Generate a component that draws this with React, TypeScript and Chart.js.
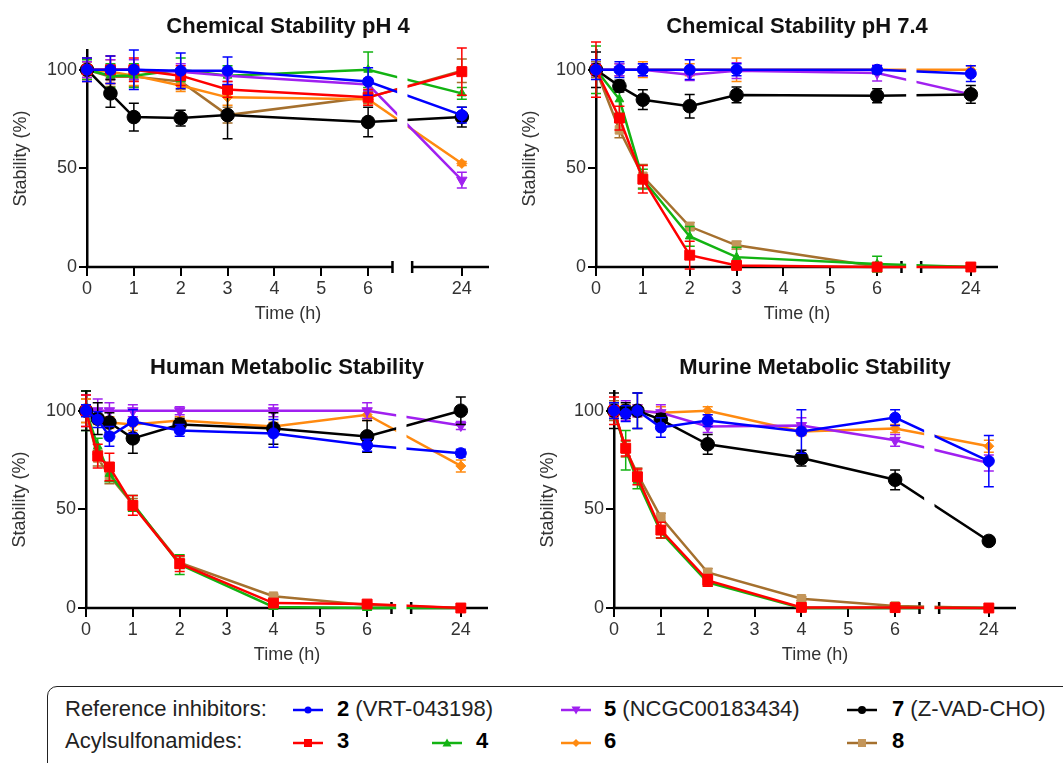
import React, { useEffect, useRef } from 'react';
import { Chart, registerables } from 'chart.js';

Chart.register(...registerables);

const FONT = '"Liberation Sans", Arial, Helvetica, sans-serif';
Chart.defaults.font.family = FONT;

// ---------------- data ----------------
const T_CHEM = [0, 0.5, 1, 2, 3, 6, 24];
const T_MET = [0, 0.25, 0.5, 1, 2, 4, 6, 24];
const X_TICK_HOURS = [0, 1, 2, 3, 4, 5, 6, 24];
const Y_TICKS = [0, 50, 100];

// Chemical Stability pH 4
const PH4_2 = [100, 100, 100, 99.5, 99.5, 94, 77];
const PH4_2_ERR = [6, 7, 10, 9, 7, 7, 4];
const PH4_3 = [100, 100, 100, 97, 90, 86, 99];
const PH4_3_ERR = [6, 7, 6, 5, 4, 4, 12];
const PH4_4 = [100, 97, 97, 100, 97, 100, 88];
const PH4_4_ERR = [5, 6, 6, 6, 5, 9, 3];
const PH4_5 = [100, 100, 100, 99, 97, 92.5, 44];
const PH4_5_ERR = [4, 5, 5, 4, 3, 3, 4];
const PH4_6 = [100, 99, 97, 92, 86, 85, 52.5];
const PH4_6_ERR = [4, 6, 5, 3, 4, 3, 1];
const PH4_7 = [100, 88, 76, 75.5, 77, 73.5, 76];
const PH4_7_ERR = [2, 7, 7, 4, 12, 7.5, 5];
const PH4_8 = [100, 96.5, 96.5, 94, 77, 86, 99.5];
const PH4_8_ERR = [4, 5, 5, 4, 4, 3, 6];

// Chemical Stability pH 7.4
const PH74_2 = [100, 100, 100, 100, 100, 100, 98];
const PH74_2_ERR = [5, 4, 3, 5, 3, 2, 4];
const PH74_3 = [100, 75.5, 44.5, 6, 0.8, 0, 0];
const PH74_3_ERR = [14, 6, 7, 7, 1, 1, 0.5];
const PH74_4 = [100, 85, 44.5, 15.5, 5, 1.5, 0];
const PH74_4_ERR = [12, 7, 5, 5, 5, 4, 0.5];
const PH74_5 = [100, 100, 100, 97.5, 99.5, 98.3, 87.5];
const PH74_5_ERR = [3, 3, 3, 3, 4, 4, 2];
const PH74_6 = [100, 100, 100, 100, 100, 100, 100];
const PH74_6_ERR = [3, 3, 4, 3, 6, 2, 2];
const PH74_7 = [100, 91.7, 84.8, 81.5, 87.2, 86.8, 87.5];
const PH74_7_ERR = [9, 3, 5, 6, 4, 3.5, 4.5];
const PH74_8 = [100, 69.5, 46, 20.5, 11, 0.3, 0];
const PH74_8_ERR = [4, 4, 6, 2, 2, 1, 0.5];

// Human Metabolic Stability
const HUM_2 = [100, 95.5, 87, 94.5, 90, 88.5, 82.5, 78.5];
const HUM_2_ERR = [3, 4, 5, 6, 3, 7, 3, 2];
const HUM_3 = [100, 77, 71.5, 52, 22.5, 2.5, 2, 0];
const HUM_3_ERR = [8, 6, 7, 5, 4, 1, 1, 0.5];
const HUM_4 = [100, 82, 68, 53, 22, 0.5, 0, 0];
const HUM_4_ERR = [10, 4, 4, 4, 5, 1, 1, 0.5];
const HUM_5 = [100, 100, 100, 100, 100, 100, 100, 92.5];
const HUM_5_ERR = [8, 6, 4, 3, 2, 3, 4, 2];
const HUM_6 = [100, 97, 94, 93, 95, 92, 98, 72];
const HUM_6_ERR = [6, 4, 3, 3, 2, 2, 3, 3];
const HUM_7 = [100, 96, 94, 86, 93, 91, 87, 100];
const HUM_7_ERR = [10, 8, 5, 7.5, 3, 8, 8, 7];
const HUM_8 = [100, 76, 67, 52.5, 23, 6, 1.5, 0];
const HUM_8_ERR = [6, 4, 4, 3, 3, 1, 1, 0.5];

// Murine Metabolic Stability
const MUR_2 = [100, 98.5, 100, 91.5, 95, 89.5, 96.5, 74.5];
const MUR_2_ERR = [4, 4, 9, 5, 3, 11, 4, 13];
const MUR_3 = [100, 81, 66.5, 39.5, 14, 0.3, 0.2, 0];
const MUR_3_ERR = [7, 4, 4, 4, 3, 1, 1, 0.5];
const MUR_4 = [100, 80, 64.5, 38.5, 13, 0, 0, 0];
const MUR_4_ERR = [4, 10, 4, 3, 2, 1, 1, 0.5];
const MUR_5 = [100, 100, 100, 99, 92, 92.5, 85, 73.5];
const MUR_5_ERR = [3, 5, 3, 4, 3, 4, 3, 4];
const MUR_6 = [100, 100, 100, 99, 100, 89.5, 91, 82];
const MUR_6_ERR = [4, 3, 3, 3, 2, 2, 2, 3];
const MUR_7 = [100, 100, 100, 95.5, 83, 76, 65, 34];
const MUR_7_ERR = [9, 4, 9, 3, 5, 4, 5, 1.5];
const MUR_8 = [100, 80.5, 68, 46, 18, 4.7, 1, 0];
const MUR_8_ERR = [5, 4, 3, 2, 2, 1, 1, 0.5];

// draw order: first = on top
const SERIES_IDS = ['2', '3', '7', '5', '4', '6', '8'];

// ---------------- styles ----------------
const STYLE: Record<string, any> = {
  '2': { color: '#0000FF', fill: '#0000FF', point: 'circle', radius: 5.5, rotation: 0 },
  '3': { color: '#FF0000', fill: '#FF0000', point: 'rect', radius: 7, rotation: 0 },
  '4': { color: '#12B312', fill: '#12B312', point: 'triangle', radius: 5, rotation: 0 },
  '5': { color: '#A020F0', fill: '#A020F0', point: 'triangle', radius: 6, rotation: 180 },
  '6': { color: '#FF8A10', fill: '#FF8A10', point: 'rectRot', radius: 5, rotation: 0 },
  '7': { color: '#000000', fill: '#000000', point: 'circle', radius: 6.8, rotation: 0 },
  '8': { color: '#A5702E', fill: '#C4965A', point: 'rect', radius: 6, rotation: 0 },
};

// broken x axis: 0..6.5 linear, then 24 placed after the break
const BREAK_START = 6.52;
const BREAK_END = 6.94;
const GAP_START = 6.62;
const GAP_END = 6.84;
const AXIS_MAX = 8.58;
const LATE_POS = 8;
function axisX(t: number) {
  return t <= 6.5 ? t : LATE_POS + (t - 24) * 0.1;
}

const PANELS = [
  {
    title: 'Chemical Stability pH 4', times: T_CHEM, left: 0, top: 0,
    values: { '2': PH4_2, '3': PH4_3, '4': PH4_4, '5': PH4_5, '6': PH4_6, '7': PH4_7, '8': PH4_8 },
    errors: { '2': PH4_2_ERR, '3': PH4_3_ERR, '4': PH4_4_ERR, '5': PH4_5_ERR, '6': PH4_6_ERR, '7': PH4_7_ERR, '8': PH4_8_ERR },
  },
  {
    title: 'Chemical Stability pH 7.4', times: T_CHEM, left: 509, top: 0,
    values: { '2': PH74_2, '3': PH74_3, '4': PH74_4, '5': PH74_5, '6': PH74_6, '7': PH74_7, '8': PH74_8 },
    errors: { '2': PH74_2_ERR, '3': PH74_3_ERR, '4': PH74_4_ERR, '5': PH74_5_ERR, '6': PH74_6_ERR, '7': PH74_7_ERR, '8': PH74_8_ERR },
  },
  {
    title: 'Human Metabolic Stability', times: T_MET, left: -1, top: 341,
    values: { '2': HUM_2, '3': HUM_3, '4': HUM_4, '5': HUM_5, '6': HUM_6, '7': HUM_7, '8': HUM_8 },
    errors: { '2': HUM_2_ERR, '3': HUM_3_ERR, '4': HUM_4_ERR, '5': HUM_5_ERR, '6': HUM_6_ERR, '7': HUM_7_ERR, '8': HUM_8_ERR },
  },
  {
    title: 'Murine Metabolic Stability', times: T_MET, left: 527, top: 341,
    values: { '2': MUR_2, '3': MUR_3, '4': MUR_4, '5': MUR_5, '6': MUR_6, '7': MUR_7, '8': MUR_8 },
    errors: { '2': MUR_2_ERR, '3': MUR_3_ERR, '4': MUR_4_ERR, '5': MUR_5_ERR, '6': MUR_6_ERR, '7': MUR_7_ERR, '8': MUR_8_ERR },
  },
];

const CANVAS_W = 530;
const CANVAS_H = 330;

const panelPlugin = {
  id: 'panelDecor',
  beforeDatasetsDraw(chart: any) {
    const { ctx, scales } = chart;
    const x = scales.x;
    const y = scales.y;
    const y0 = y.getPixelForValue(0);
    const a = x.getPixelForValue(0) - 1.25;
    const b = x.getPixelForValue(BREAK_START);
    const c = x.getPixelForValue(BREAK_END);
    const d = x.getPixelForValue(AXIS_MAX);
    ctx.save();
    ctx.strokeStyle = '#000';
    ctx.lineWidth = 2.5;
    ctx.beginPath();
    ctx.moveTo(a, y0); ctx.lineTo(b, y0);
    ctx.moveTo(c, y0); ctx.lineTo(d, y0);
    ctx.moveTo(b, y0 - 6); ctx.lineTo(b, y0 + 6);
    ctx.moveTo(c, y0 - 6); ctx.lineTo(c, y0 + 6);
    ctx.stroke();
    ctx.restore();
  },
  beforeDatasetDraw(chart: any, args: any) {
    const { ctx, scales } = chart;
    const y = scales.y;
    const meta = args.meta;
    const ds = chart.data.datasets[args.index];
    const errs: number[] = ds.errors || [];
    ctx.save();
    ctx.strokeStyle = ds.borderColor;
    ctx.lineWidth = 1.5;
    ctx.beginPath();
    meta.data.forEach((pt: any, j: number) => {
      const e = errs[j];
      if (!e) return;
      const v = ds.data[j].y;
      const yt = y.getPixelForValue(v + e);
      const yb = y.getPixelForValue(v - e);
      ctx.moveTo(pt.x, yt); ctx.lineTo(pt.x, yb);
      ctx.moveTo(pt.x - 5, yt); ctx.lineTo(pt.x + 5, yt);
      ctx.moveTo(pt.x - 5, yb); ctx.lineTo(pt.x + 5, yb);
    });
    ctx.stroke();
    ctx.restore();
  },
  afterDatasetsDraw(chart: any) {
    const { ctx, chartArea, scales } = chart;
    const x = scales.x;
    const g1 = x.getPixelForValue(GAP_START);
    const g2 = x.getPixelForValue(GAP_END);
    ctx.save();
    ctx.fillStyle = '#ffffff';
    ctx.fillRect(g1, chartArea.top - 20, g2 - g1, chartArea.bottom - chartArea.top + 40);
    ctx.restore();
  },
  afterDraw(chart: any, _args: any, opts: any) {
    const { ctx, chartArea } = chart;
    ctx.save();
    ctx.font = `bold 22px ${FONT}`;
    ctx.fillStyle = '#111';
    ctx.textAlign = 'center';
    ctx.textBaseline = 'alphabetic';
    ctx.fillText(opts.title || '', (chartArea.left + chartArea.right) / 2, 33);
    ctx.restore();
  },
};

function Panel({ panel }: { panel: any }) {
  const ref = useRef<HTMLCanvasElement | null>(null);
  useEffect(() => {
    if (!ref.current) return;
    const datasets = SERIES_IDS.map((id) => {
      const st = STYLE[id];
      const vals: number[] = panel.values[id];
      return {
        label: id,
        data: panel.times.map((t: number, i: number) => ({ x: axisX(t), y: vals[i] })),
        errors: panel.errors[id],
        borderColor: st.color,
        backgroundColor: st.fill,
        pointBackgroundColor: st.fill,
        pointBorderColor: st.fill,
        pointStyle: st.point,
        pointRadius: st.radius,
        pointRotation: st.rotation,
        pointBorderWidth: 1,
        borderWidth: 2.5,
        tension: 0,
        clip: false,
      };
    });
    const chart = new Chart(ref.current, {
      type: 'line',
      data: { datasets } as any,
      options: {
        responsive: false,
        animation: false,
        events: [],
        layout: { padding: { top: 50, right: 41, left: 0, bottom: 0 } },
        plugins: {
          legend: { display: false },
          tooltip: { enabled: false },
          title: { display: false },
          panelDecor: { title: panel.title },
        } as any,
        scales: {
          x: {
            type: 'linear',
            min: 0,
            max: AXIS_MAX,
            afterBuildTicks: (s: any) => {
              s.ticks = X_TICK_HOURS.map((h) => ({ value: axisX(h) }));
            },
            afterFit: (s: any) => {
              s.height = 63;
            },
            ticks: {
              autoSkip: false,
              maxRotation: 0,
              color: '#333',
              font: { size: 18, family: FONT },
              padding: 2,
              callback: (_v: any, i: number) => String(X_TICK_HOURS[i]),
            },
            grid: { display: true, drawOnChartArea: false, drawTicks: true, tickLength: 9, color: '#000', lineWidth: 2 },
            border: { display: false },
            title: {
              display: true,
              text: 'Time (h)',
              color: '#333',
              font: { size: 18, family: FONT },
              padding: { top: 0, bottom: 5 },
            },
          },
          y: {
            min: 0,
            max: 110,
            afterBuildTicks: (s: any) => {
              s.ticks = Y_TICKS.map((v) => ({ value: v }));
            },
            afterFit: (s: any) => {
              s.width = 87;
            },
            ticks: {
              color: '#333',
              font: { size: 18, family: FONT },
              padding: 2,
              callback: (v: any) => String(v),
            },
            grid: { display: true, drawOnChartArea: false, drawTicks: true, tickLength: 8, color: '#000', lineWidth: 2 },
            border: { display: true, color: '#000', width: 2.5 },
            title: {
              display: true,
              text: 'Stability (%)',
              color: '#333',
              font: { size: 18, family: FONT },
              padding: { top: 10, bottom: 0 },
            },
          },
        },
      } as any,
      plugins: [panelPlugin as any],
    });
    return () => chart.destroy();
  }, [panel]);
  return (
    <canvas
      ref={ref}
      width={CANVAS_W}
      height={CANVAS_H}
      style={{ position: 'absolute', left: panel.left, top: panel.top, width: CANVAS_W, height: CANVAS_H }}
    />
  );
}

// ---------------- legend ----------------
function Marker({ id }: { id: string }) {
  const st = STYLE[id];
  const cx = 15, cy = 7;
  let shape: any = null;
  if (id === '2' || id === '7') shape = <circle cx={cx} cy={cy} r={id === '7' ? 4 : 3.5} fill={st.fill} />;
  else if (id === '3' || id === '8') shape = <rect x={cx - 4} y={cy - 4} width={8} height={8} fill={st.fill} />;
  else if (id === '4') shape = <polygon points={`${cx},${cy - 4.5} ${cx + 4.5},${cy + 3.5} ${cx - 4.5},${cy + 3.5}`} fill={st.fill} />;
  else if (id === '5') shape = <polygon points={`${cx},${cy + 4.5} ${cx + 4.5},${cy - 3.5} ${cx - 4.5},${cy - 3.5}`} fill={st.fill} />;
  else if (id === '6') shape = <polygon points={`${cx},${cy - 4} ${cx + 4},${cy} ${cx},${cy + 4} ${cx - 4},${cy}`} fill={st.fill} />;
  return (
    <svg width={30} height={14}>
      <line x1={0} y1={cy} x2={30} y2={cy} stroke={st.color} strokeWidth={2.5} />
      {shape}
    </svg>
  );
}

const LEG_FONT = 22;
function textTop(baseline: number) {
  return baseline - ((LEG_FONT - 1.117 * LEG_FONT) / 2 + 0.905 * LEG_FONT);
}

const LEGEND_ITEMS = [
  { id: '2', extra: '(VRT-043198)', icon: 293, text: 337, row: 0 },
  { id: '5', extra: '(NCGC00183434)', icon: 561, text: 604, row: 0 },
  { id: '7', extra: '(Z-VAD-CHO)', icon: 847, text: 892, row: 0 },
  { id: '3', extra: '', icon: 293, text: 337, row: 1 },
  { id: '4', extra: '', icon: 432, text: 476, row: 1 },
  { id: '6', extra: '', icon: 561, text: 604, row: 1 },
  { id: '8', extra: '', icon: 847, text: 892, row: 1 },
];
const ROW_BASELINE = [717, 749];
const ROW_ICON_CENTER = [709.5, 742.5];

function Legend() {
  const textStyle = (left: number, row: number): any => ({
    position: 'absolute',
    left,
    top: textTop(ROW_BASELINE[row]),
    fontFamily: FONT,
    fontSize: LEG_FONT,
    lineHeight: `${LEG_FONT}px`,
    whiteSpace: 'nowrap',
    color: '#222',
  });
  return (
    <>
      <div
        style={{
          position: 'absolute',
          left: 47,
          top: 686,
          width: 1100,
          height: 150,
          border: '1.5px solid #222',
          borderRadius: 10,
          boxSizing: 'border-box',
        }}
      />
      <div style={textStyle(65, 0)}>Reference inhibitors:</div>
      <div style={textStyle(65, 1)}>Acylsulfonamides:</div>
      {LEGEND_ITEMS.map((it) => (
        <React.Fragment key={it.id}>
          <div style={{ position: 'absolute', left: it.icon, top: ROW_ICON_CENTER[it.row] - 7, width: 30, height: 14, lineHeight: 0 }}>
            <Marker id={it.id} />
          </div>
          <div style={textStyle(it.text, it.row)}>
            <span style={{ fontWeight: 'bold', color: '#000' }}>{it.id}</span>
            {it.extra ? ' ' + it.extra : ''}
          </div>
        </React.Fragment>
      ))}
    </>
  );
}

export default function App() {
  return (
    <div
      style={{
        position: 'absolute',
        left: 0,
        top: 0,
        width: 1063,
        height: 763,
        overflow: 'hidden',
        background: '#fff',
      }}
    >
      {PANELS.map((p, i) => (
        <Panel key={i} panel={p} />
      ))}
      <Legend />
    </div>
  );
}
